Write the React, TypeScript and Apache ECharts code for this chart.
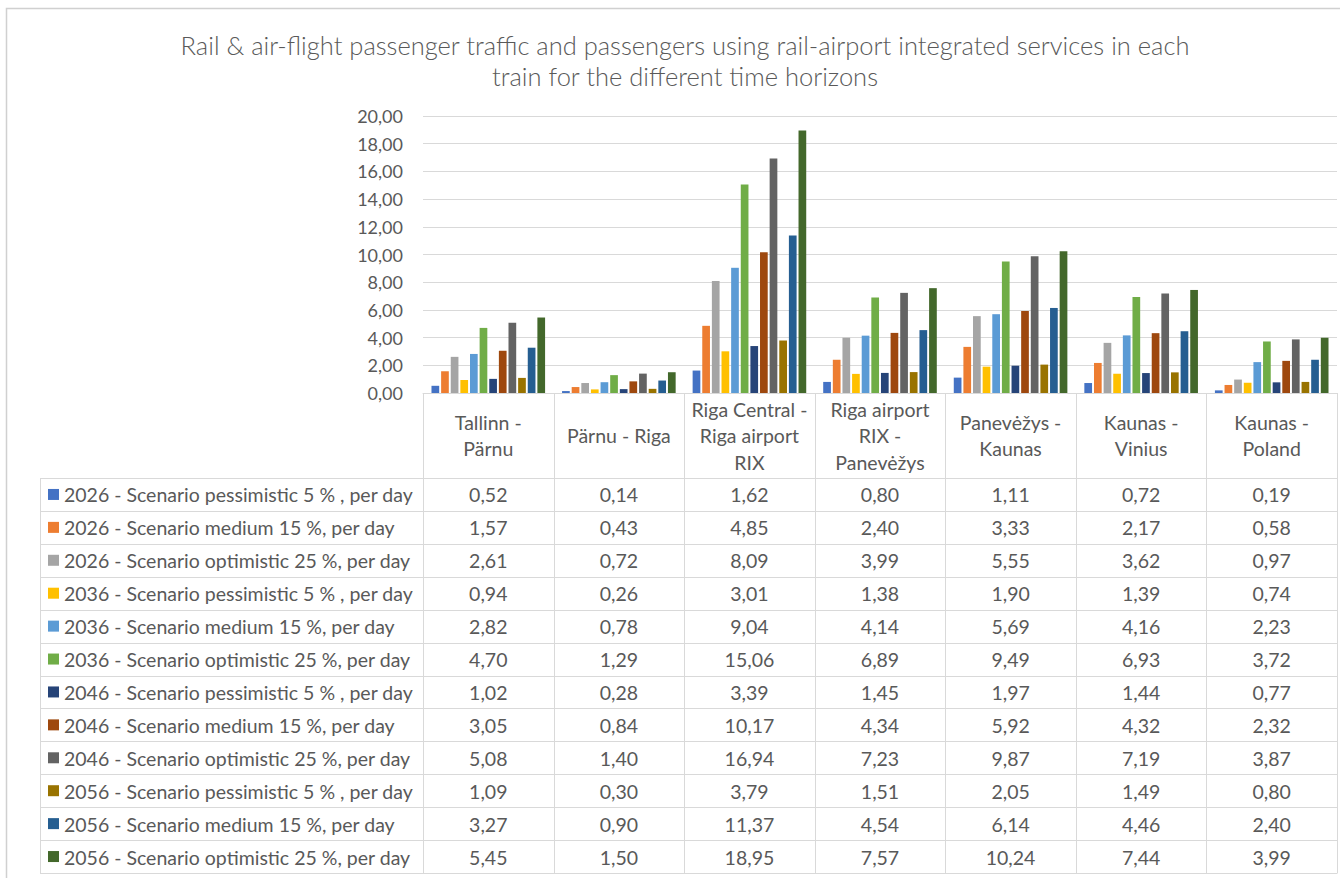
import React, { useEffect, useRef } from "react";
import * as echarts from "echarts";

const titleText =
  "Rail & air-flight passenger traffic and passengers using rail-airport integrated services in each\ntrain for the different time horizons";

const categories = [
  "Tallinn -\nPärnu",
  "Pärnu - Riga",
  "Riga Central -\nRiga airport\nRIX",
  "Riga airport\nRIX -\nPanevėžys",
  "Panevėžys -\nKaunas",
  "Kaunas -\nVinius",
  "Kaunas -\nPoland",
];

const seriesNames = [
  "2026 - Scenario pessimistic 5 % , per day",
  "2026 - Scenario medium 15 %, per day",
  "2026 - Scenario optimistic 25 %, per day",
  "2036 - Scenario pessimistic 5 % , per day",
  "2036 - Scenario medium 15 %, per day",
  "2036 - Scenario optimistic 25 %, per day",
  "2046 - Scenario pessimistic 5 % , per day",
  "2046 - Scenario medium 15 %, per day",
  "2046 - Scenario optimistic 25 %, per day",
  "2056 - Scenario pessimistic 5 % , per day",
  "2056 - Scenario medium 15 %, per day",
  "2056 - Scenario optimistic 25 %, per day",
];

const s2026p = [0.52, 0.14, 1.62, 0.8, 1.11, 0.72, 0.19];
const s2026m = [1.57, 0.43, 4.85, 2.4, 3.33, 2.17, 0.58];
const s2026o = [2.61, 0.72, 8.09, 3.99, 5.55, 3.62, 0.97];
const s2036p = [0.94, 0.26, 3.01, 1.38, 1.9, 1.39, 0.74];
const s2036m = [2.82, 0.78, 9.04, 4.14, 5.69, 4.16, 2.23];
const s2036o = [4.7, 1.29, 15.06, 6.89, 9.49, 6.93, 3.72];
const s2046p = [1.02, 0.28, 3.39, 1.45, 1.97, 1.44, 0.77];
const s2046m = [3.05, 0.84, 10.17, 4.34, 5.92, 4.32, 2.32];
const s2046o = [5.08, 1.4, 16.94, 7.23, 9.87, 7.19, 3.87];
const s2056p = [1.09, 0.3, 3.79, 1.51, 2.05, 1.49, 0.8];
const s2056m = [3.27, 0.9, 11.37, 4.54, 6.14, 4.46, 2.4];
const s2056o = [5.45, 1.5, 18.95, 7.57, 10.24, 7.44, 3.99];

const seriesValues = [
  s2026p, s2026m, s2026o, s2036p, s2036m, s2036o,
  s2046p, s2046m, s2046o, s2056p, s2056m, s2056o,
];

const colors = [
  "#4472C4", "#ED7D31", "#A5A5A5", "#FFC000", "#5B9BD5", "#70AD47",
  "#264478", "#9E480E", "#636363", "#997300", "#255E91", "#43682B",
];

const yMin = 0;
const yMax = 20;
const yInterval = 2;

const FONT = "Lato, 'Open Sans', sans-serif";
const TEXT = "#595959";
const LINE = "#D9D9D9";

const fmt = (v: number) => v.toFixed(2).replace(".", ",");

export default function App() {
  const ref = useRef<HTMLDivElement>(null);

  useEffect(() => {
    if (!ref.current) return;
    const chart = echarts.init(ref.current, undefined, { renderer: "svg" });

    const gridLeft = 423;
    const gridRight = 3;
    const gridTop = 116;
    const gridBottomY = 393;
    const headerBottom = 478;
    const tableBottom = 873;
    const rowH = (tableBottom - headerBottom) / seriesNames.length;
    const legendLeft = 40;

    chart.setOption({
      animation: false,
      color: colors,
      textStyle: { fontFamily: FONT },
      grid: {
        left: gridLeft,
        right: gridRight,
        top: gridTop,
        bottom: 878 - gridBottomY,
        containLabel: false,
      },
      legend: { show: false, data: seriesNames },
      xAxis: {
        type: "category",
        data: categories,
        axisLabel: { show: false },
        axisTick: { show: false },
        axisLine: { show: true, lineStyle: { color: LINE, width: 1 } },
      },
      yAxis: {
        type: "value",
        min: yMin,
        max: yMax,
        interval: yInterval,
        axisLabel: {
          formatter: (v: number) => fmt(v),
          fontSize: 18,
          color: TEXT,
          fontFamily: FONT,
          margin: 20,
        },
        axisLine: { show: false },
        axisTick: { show: false },
        splitLine: { lineStyle: { color: LINE, width: 1 } },
      },
      series: seriesNames.map((name, i) => ({
        name,
        type: "bar",
        data: seriesValues[i],
        barGap: "25%",
        barCategoryGap: "13%",
        itemStyle: { color: colors[i] },
      })),
    });

    // Build data table from the axis scale
    const width = 1340;
    const tableRight = width - gridRight;
    const centers = categories.map((_, i) => chart.convertToPixel({ xAxisIndex: 0 }, i) as number);
    const colW = (tableRight - gridLeft) / categories.length;

    const elements: any[] = [];
    elements.push({
      type: "rect",
      shape: { x: 6.5, y: 8.5, width: 1340, height: 880 },
      style: { fill: "none", stroke: "#D0D0D0", lineWidth: 1.5 },
      silent: true,
    });
    elements.push({
      type: "text",
      x: 685,
      y: 60,
      style: {
        text: titleText,
        fontSize: 25.5,
        fontWeight: 300,
        fontFamily: FONT,
        fill: TEXT,
        align: "center",
        verticalAlign: "middle",
        lineHeight: 31,
      },
    });
    for (let k = 0; k <= categories.length; k++) {
      const x = Math.round(gridLeft + k * colW) + 0.5;
      elements.push({
        type: "line",
        shape: { x1: x, y1: gridBottomY, x2: x, y2: tableBottom },
        style: { stroke: LINE, lineWidth: 1 },
        silent: true,
      });
    }
    elements.push({
      type: "line",
      shape: { x1: legendLeft + 0.5, y1: headerBottom, x2: legendLeft + 0.5, y2: tableBottom },
      style: { stroke: LINE, lineWidth: 1 },
      silent: true,
    });
    for (let r = 0; r <= seriesNames.length; r++) {
      const y = Math.round(headerBottom + r * rowH) + 0.5;
      elements.push({
        type: "line",
        shape: { x1: legendLeft, y1: y, x2: tableRight + 0.5, y2: y },
        style: { stroke: LINE, lineWidth: 1 },
        silent: true,
      });
    }
    categories.forEach((c, i) => {
      elements.push({
        type: "text",
        x: centers[i],
        y: (gridBottomY + headerBottom) / 2,
        style: {
          text: c,
          fontSize: 19.5,
          fontFamily: FONT,
          fill: TEXT,
          align: "center",
          verticalAlign: "middle",
          lineHeight: 26.5,
        },
      });
    });
    // legend keys (series names with colour swatches) in the table's first column
    seriesNames.forEach((name, r) => {
      const cy = headerBottom + (r + 0.5) * rowH + 0.5;
      elements.push({
        type: "rect",
        shape: { x: 48, y: cy - 6, width: 11, height: 11 },
        style: { fill: colors[r] },
        silent: true,
      });
      elements.push({
        type: "text",
        x: 64,
        y: cy,
        style: {
          text: name,
          fontSize: 19.5,
          fontFamily: FONT,
          fill: TEXT,
          align: "left",
          verticalAlign: "middle",
        },
      });
    });
    seriesValues.forEach((vals, r) => {
      vals.forEach((v, i) => {
        elements.push({
          type: "text",
          x: centers[i],
          y: headerBottom + (r + 0.5) * rowH + 0.5,
          style: {
            text: fmt(v),
            fontSize: 19.5,
            fontFamily: FONT,
            fill: TEXT,
            align: "center",
            verticalAlign: "middle",
          },
        });
      });
    });

    chart.setOption({ graphic: { elements } });

    return () => chart.dispose();
  }, []);

  return (
    <div
      ref={ref}
      style={{ position: "fixed", left: 0, top: 0, width: 1340, height: 878, background: "#fff" }}
    />
  );
}
